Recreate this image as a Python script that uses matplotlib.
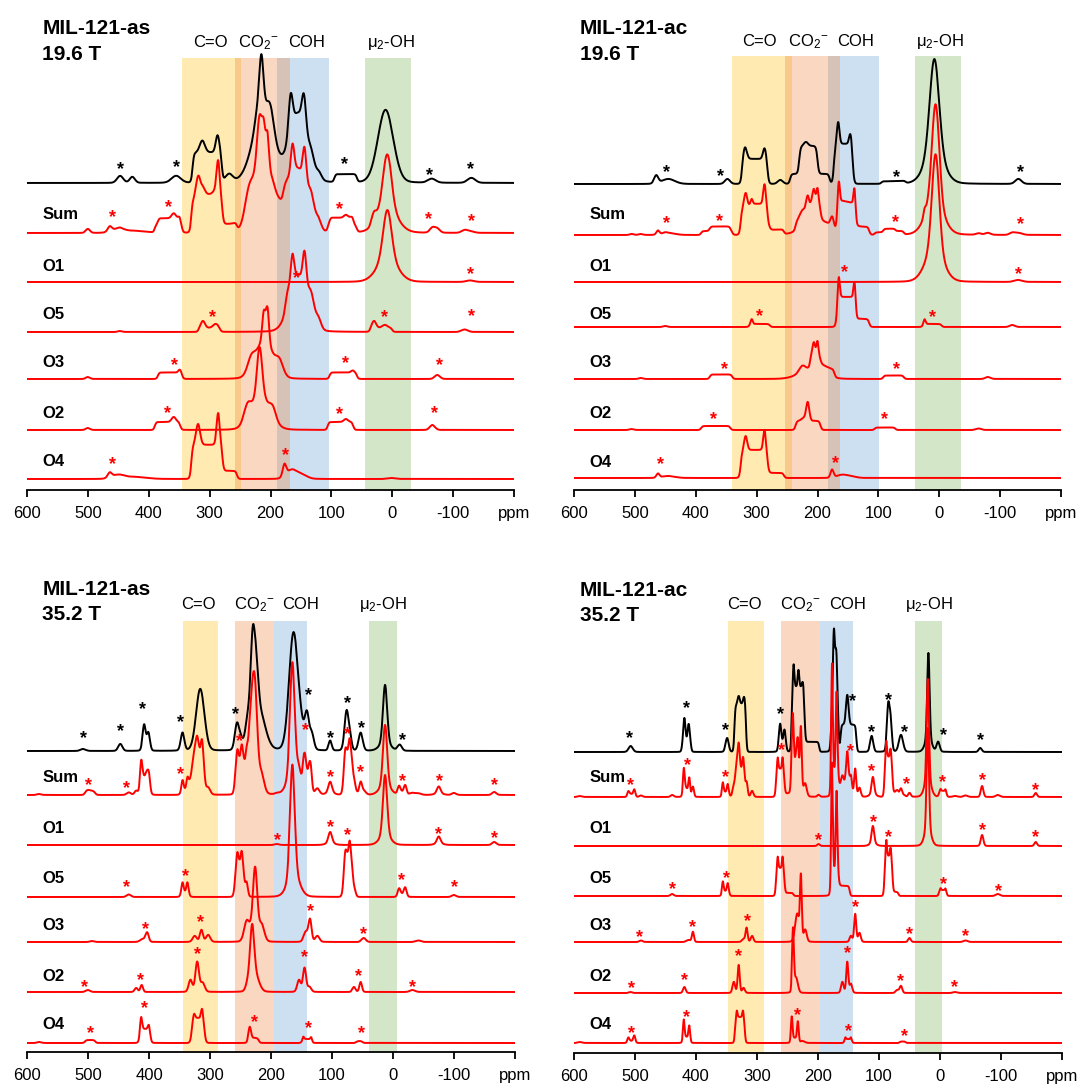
import numpy as np
import matplotlib
matplotlib.use('Agg')
import matplotlib.pyplot as plt
from matplotlib.patches import Rectangle

plt.rcParams['font.family'] = ['Liberation Sans', 'DejaVu Sans']
plt.rcParams['mathtext.fontset'] = 'custom'
plt.rcParams['mathtext.rm'] = 'Liberation Sans'
plt.rcParams['mathtext.it'] = 'Liberation Sans:italic'
plt.rcParams['mathtext.bf'] = 'Liberation Sans:bold'

# ---------------- data ----------------
TICKS = [600, 500, 400, 300, 200, 100, 0, -100, -200]
TICK_LABELS = ['600', '500', '400', '300', '200', '100', '0', '-100', 'ppm']
ROW_NAMES = ['Sum', 'O1', 'O5', 'O3', 'O2', 'O4']
BAND_LABELS = ['C=O', r'CO$_2$$^{\mathrm{−}}$', 'COH', r'μ$_2$-OH']
TITLES = [('MIL-121-as', '19.6 T'), ('MIL-121-ac', '19.6 T'),
          ('MIL-121-as', '35.2 T'), ('MIL-121-ac', '35.2 T')]

# band ranges (ppm, lo/hi) : C=O, CO2-, COH, mu2-OH
TL_BANDS = [(248, 345), (168, 259), (104, 189), (-30, 45)]
TR_BANDS = [(242, 341), (163, 253), (99, 183), (-35, 40)]
BL_BANDS = [(287, 345), (195, 259), (141, 195), (-6, 40)]
BR_BANDS = [(289, 347), (196, 260), (142, 196), (-4, 41)]
TL_BAND_LABEL_X = [299, 220, 141, 2]
TR_BAND_LABEL_X = [295, 216, 137, -1]
BL_BAND_LABEL_X = [319, 227, 151, 17]
BR_BAND_LABEL_X = [321, 229, 152, 18]

# spectra: peaks (centre ppm, height, fwhm ppm), plateaus (lo, hi, height)
# ---- MIL-121-as 19.6 T
TL_EXP_PEAKS = [(447, 7, 12), (427, 6, 10), (355, 7, 18), (312, 12, 10), (287, 17, 7), (268, 8, 14),
                (215, 55, 8), (212, 70, 40), (200, 22, 14), (222, 12, 10), (167, 38, 8), (145, 34, 8),
                (155, 68, 34), (133, 12, 12), (120, 6, 10), (11, 73, 30), (-65, 4, 15), (-130, 5, 15)]
TL_EXP_BOXES = [(280, 328, 30), (58, 95, 8)]
TL_O1_PEAKS = [(8, 48, 16), (8, 24, 38), (-128, 1.5, 15)]
TL_O1_BOXES = []
TL_O5_PEAKS = [(164, 33, 7), (144, 35, 7), (172, 14, 8), (133, 20, 12), (121, 9, 10), (154, 56, 34),
               (311, 7, 8), (290, 4, 10), (30, 7, 8), (12, 3, 10), (447, 1, 8), (-119, 2.5, 12)]
TL_O5_BOXES = [(283, 318, 4), (0, 36, 4)]
TL_O3_PEAKS = [(211, 28, 6), (205, 34, 6), (210, 38, 34), (232, 12, 14), (185, 12, 14), (349, 3, 5),
               (65, 2, 6), (-74, 4, 10), (500, 2, 8)]
TL_O3_BOXES = [(345, 385, 6.5), (58, 103, 6.5)]
TL_O2_PEAKS = [(218, 50, 10), (216, 33, 36), (238, 15, 14), (196, 10, 12), (359, 5, 8), (76, 3, 8),
               (-66, 5, 10), (500, 2, 8)]
TL_O2_BOXES = [(348, 390, 8), (64, 106, 8)]
TL_O4_PEAKS = [(319, 21, 8), (286, 32, 6), (464, 5, 8), (450, 4, 25), (420, 2, 40), (177, 12, 7),
               (165, 9, 20), (148, 4, 20), (0, 1, 15)]
TL_O4_BOXES = [(279, 330, 34), (255, 279, 8)]

# ---- MIL-121-ac 19.6 T
TR_EXP_PEAKS = [(465, 8, 8), (445, 5, 25), (348, 5, 10), (319, 12, 7), (287, 11, 6), (261, 4, 10),
                (219, 4, 8), (166, 22, 5), (146, 11, 5), (8, 95, 18), (8, 30, 36), (-130, 5, 12)]
TR_EXP_BOXES = [(282, 324, 25), (200, 230, 28), (180, 245, 10), (142, 173, 40), (55, 95, 2.5)]
TR_O1_PEAKS = [(6, 96, 14), (8, 32, 34), (-130, 2, 15)]
TR_O1_BOXES = []
TR_O5_PEAKS = [(165, 22, 4), (139, 21, 4), (308, 5, 4), (24, 5, 4), (450, 1, 8), (-120, 2, 10)]
TR_O5_BOXES = [(138, 168, 22), (115, 168, 8), (278, 312, 3), (-4, 27, 3)]
TR_O3_PEAKS = [(206, 12, 5), (200, 14, 4), (210, 10, 45), (225, 6, 12), (-80, 2, 10), (490, 1, 8)]
TR_O3_BOXES = [(195, 212, 15), (172, 195, 8), (340, 377, 4.5), (58, 92, 3.5)]
TR_O2_PEAKS = [(216, 18, 6), (222, 3, 10), (-65, 1.5, 10), (505, 1, 8)]
TR_O2_BOXES = [(195, 236, 9), (343, 391, 4), (72, 106, 2.5)]
TR_O4_PEAKS = [(318, 14, 6), (287, 20, 5), (462, 4, 6), (445, 2, 25), (176, 8, 6), (160, 3, 20),
               (145, 1.5, 20)]
TR_O4_BOXES = [(282, 326, 28), (255, 282, 5)]

# ---- MIL-121-as 35.2 T
BL_EXP_PEAKS = [(508, 2, 10), (447, 7, 8), (408, 26, 6), (401, 18, 6), (345, 18, 7), (316, 62, 16),
                (256, 25, 8), (250, 10, 8), (230, 85, 8), (224, 45, 8), (220, 40, 24), (238, 25, 10),
                (164, 85, 16), (158, 40, 22), (141, 30, 8), (133, 15, 8), (103, 10, 6), (76, 40, 8),
                (70, 10, 6), (53, 18, 8), (13, 58, 8), (13, 8, 20), (-11, 6, 8)]
BL_EXP_BOXES = []
BL_O1_PEAKS = [(13, 60, 8), (13, 10, 20), (103, 11, 7), (103, 2, 16), (-75, 7, 7), (-75, 1.5, 16),
               (-166, 3, 8), (190, 1, 8)]
BL_O1_BOXES = []
BL_O5_PEAKS = [(165, 110, 9), (163, 23, 22), (255, 10, 3.5), (248, 11, 3.5), (240, 14, 5), (78, 6, 3.5),
               (71, 13, 3.5), (63, 6, 5), (345, 10, 4), (337, 10, 4), (-10, 6, 5), (-20, 7, 5),
               (433, 2.5, 8), (-100, 2, 8)]
BL_O5_BOXES = [(244, 259, 36), (66, 81, 44), (334, 348, 5), (-23, -7, 3)]
BL_O3_PEAKS = [(226, 60, 8), (228, 15, 16), (215, 15, 10), (240, 18, 10), (403, 9, 6), (410, 3, 10),
               (314, 12, 6), (303, 7, 8), (325, 6, 8), (136, 22, 6), (143, 10, 8), (124, 6, 8),
               (48, 4, 8), (-42, 1.5, 10), (493, 1, 8)]
BL_O3_BOXES = []
BL_O2_PEAKS = [(231, 58, 8), (225, 15, 14), (238, 8, 8), (321, 30, 7), (332, 12, 7), (312, 9, 8),
               (145, 24, 6), (154, 12, 7), (137, 5, 7), (412, 7, 5), (421, 4, 6), (53, 10, 5),
               (64, 5, 6), (500, 2, 8), (-32, 2, 10)]
BL_O2_BOXES = []
BL_O4_PEAKS = [(326, 5, 4), (313, 10, 4), (413, 14, 4), (400, 6, 4), (235, 12, 5), (147, 3, 3),
               (134, 3, 3), (580, 1, 8)]
BL_O4_BOXES = [(309, 330, 25), (398, 415, 14), (488, 505, 3), (220, 237, 5), (133, 149, 4), (50, 60, 2)]

# ---- MIL-121-ac 35.2 T
BR_EXP_PEAKS = [(507, 6, 8), (419, 24, 4), (412, 18, 4), (349, 14, 6), (330, 8, 4), (321, 8, 4),
                (262, 28, 5), (255, 22, 5), (240, 24, 3), (232, 17, 3), (225, 6, 3), (174, 88, 4),
                (170, 65, 4), (152, 30, 5), (112, 16, 6), (85, 44, 5), (81, 30, 5), (64, 17, 8),
                (19, 85, 4.5), (19, 14, 12), (3, 10, 6), (-66, 4, 6)]
BR_EXP_BOXES = [(408, 423, 10), (318, 337, 48), (222, 243, 65), (198, 222, 10), (166, 179, 30),
                (137, 163, 27)]
BR_O1_PEAKS = [(20, 100, 4.5), (20, 18, 12), (110, 17, 5), (110, 3, 12), (-69, 11, 5), (-157, 4, 5),
               (199, 2, 5)]
BR_O1_BOXES = []
BR_O5_PEAKS = [(177, 110, 3), (169.5, 80, 3), (266, 12, 2.5), (258, 12, 2.5), (88, 17, 2.5),
               (81, 9, 2.5), (356, 10, 3), (348, 8, 3), (-1, 2, 2), (-9, 2, 2), (439, 2, 6), (-95, 2, 8)]
BR_O5_BOXES = [(166, 179, 25), (148, 166, 10), (255, 269, 28), (240, 255, 3), (78, 91, 40),
               (68, 78, 4), (345, 358, 5), (-11, 2, 6)]
BR_O3_PEAKS = [(228, 62, 3.5), (234, 28, 8), (221, 12, 6), (405, 10, 4), (412, 2, 8), (317, 14, 4),
               (308, 6, 5), (322, 3, 6), (139, 28, 4), (132, 9, 5), (146, 6, 5), (50, 4, 5),
               (-42, 1.5, 8), (490, 1.5, 6)]
BR_O3_BOXES = []
BR_O2_PEAKS = [(241, 62, 3.5), (236, 15, 7), (330, 28, 4), (338, 11, 5), (322, 5, 5), (152, 31, 4),
               (160, 11, 5), (146, 9, 5), (419, 6, 5), (64, 7, 5), (70, 3, 6), (507, 1, 6), (-25, 1, 8)]
BR_O2_BOXES = []
BR_O4_PEAKS = [(333, 7, 2.5), (323, 7, 2.5), (420, 18, 3), (411, 12, 3), (511, 4, 4), (501, 6, 4),
               (243, 22, 3), (233, 17, 3), (225, 2, 8), (155, 2, 2), (146, 2, 2), (590, 1, 8)]
BR_O4_BOXES = [(320, 336, 26), (409, 422, 6), (500, 512, 2), (231, 245, 5), (144, 157, 4), (56, 66, 1.5)]

# spinning sideband markers: (ppm, height above the trace baseline)
TL_EXP_STARS = [(446, 18), (355, 20), (78, 23), (-62, 12), (-128, 18)]
TL_SUM_STARS = [(459, 20), (368, 30), (86, 28), (-59, 18), (-131, 16)]
TL_O1_STARS = [(157, 8), (-129, 12)]
TL_O5_STARS = [(295, 19), (13, 19), (-131, 20)]
TL_O3_STARS = [(358, 18), (76, 20), (-78, 18)]
TL_O2_STARS = [(369, 21), (86, 20), (-69, 21)]
TL_O4_STARS = [(460, 19), (176, 28)]

TR_EXP_STARS = [(448, 16), (360, 12), (71, 11), (-134, 16)]
TR_SUM_STARS = [(448, 16), (361, 18), (72, 17), (-133, 15)]
TR_O1_STARS = [(155, 14), (-130, 12)]
TR_O5_STARS = [(296, 15), (11, 14)]
TR_O3_STARS = [(353, 14), (71, 14)]
TR_O2_STARS = [(371, 15), (90, 15)]
TR_O4_STARS = [(458, 18), (171, 19)]

BL_EXP_STARS = [(508, 17), (446, 24), (410, 46), (348, 33), (258, 41), (138, 60), (103, 17), (75, 52),
                (51, 27), (-15, 15)]
BL_SUM_STARS = [(499, 14), (437, 11), (348, 25), (252, 58), (143, 69), (103, 22), (75, 65), (53, 27),
                (-15, 18), (-77, 18), (-167, 14)]
BL_O1_STARS = [(190, 9), (103, 22), (75, 14), (-75, 15), (-166, 11)]
BL_O5_STARS = [(437, 14), (340, 25), (-14, 21), (-101, 14)]
BL_O3_STARS = [(406, 17), (316, 24), (135, 35), (48, 12)]
BL_O2_STARS = [(506, 9), (414, 16), (321, 42), (145, 39), (56, 20), (-32, 9)]
BL_O4_STARS = [(496, 14), (407, 39), (227, 25), (139, 19), (51, 14)]

BR_EXP_STARS = [(509, 18), (415, 48), (352, 26), (262, 42), (143, 55), (112, 24), (85, 56), (58, 24),
                (-5, 21), (-66, 16)]
BR_SUM_STARS = [(507, 16), (414, 36), (352, 24), (260, 51), (147, 50), (112, 30), (55, 17), (-4, 19),
                (-69, 21), (-156, 11)]
BR_O1_STARS = [(199, 10), (109, 28), (84, 13), (-70, 20), (-157, 13)]
BR_O5_STARS = [(439, 11), (350, 22), (-5, 16), (-96, 9)]
BR_O3_STARS = [(492, 9), (405, 19), (316, 25), (139, 39), (50, 12), (-42, 10)]
BR_O2_STARS = [(505, 9), (419, 17), (331, 41), (152, 44), (65, 16), (-24, 10)]
BR_O4_STARS = [(506, 14), (415, 30), (234, 32), (150, 16), (59, 11)]

# ---------------- layout ----------------
W, H, DPI = 1081, 1084, 100
BAND_COLORS = ['#FFC000', '#5B9BD5', '#ED7D31', '#70AD47']   # drawn in order C=O, COH, CO2-, OH
RED = '#FF0000'

x = np.arange(-200, 600.01, 0.25)


def spectrum(peaks, boxes, edge):
    y = np.zeros_like(x)
    for c, h, w in peaks:
        s = w / 2.3548
        y += h * (0.9 * np.exp(-0.5 * ((x - c) / s) ** 2) + 0.1 / (1 + ((x - c) / (w / 2)) ** 2))
    for lo, hi, h in boxes:
        y += h / (1 + np.exp(-(x - lo) / edge)) / (1 + np.exp(-(hi - x) / edge))
    return y


def bl(yc, size):
    return yc + 0.36 * size * DPI / 72.0


panels = [
    dict(px=(27, 514, 0, 490), bands=TL_BANDS, blx=TL_BAND_LABEL_X, bandtop=58, hdr_y=41, title_x=575,
         title_y=(27, 53), label_x=575, edge=1.2,
         bases=[183, 233, 282, 332, 379, 430, 479], label_dy=[20, 17, 19, 18, 18, 19],
         exp=(TL_EXP_PEAKS, TL_EXP_BOXES),
         sites=[(TL_O1_PEAKS, TL_O1_BOXES), (TL_O5_PEAKS, TL_O5_BOXES), (TL_O3_PEAKS, TL_O3_BOXES),
                (TL_O2_PEAKS, TL_O2_BOXES), (TL_O4_PEAKS, TL_O4_BOXES)],
         stars=[TL_EXP_STARS, TL_SUM_STARS, TL_O1_STARS, TL_O5_STARS, TL_O3_STARS, TL_O2_STARS, TL_O4_STARS]),
    dict(px=(574, 1061, 0, 490), bands=TR_BANDS, blx=TR_BAND_LABEL_X, bandtop=56, hdr_y=40, title_x=590,
         title_y=(27, 53), label_x=575, edge=1.2,
         bases=[184, 235, 282, 327, 379, 430, 478], label_dy=[22, 17, 14, 18, 18, 17],
         exp=(TR_EXP_PEAKS, TR_EXP_BOXES),
         sites=[(TR_O1_PEAKS, TR_O1_BOXES), (TR_O5_PEAKS, TR_O5_BOXES), (TR_O3_PEAKS, TR_O3_BOXES),
                (TR_O2_PEAKS, TR_O2_BOXES), (TR_O4_PEAKS, TR_O4_BOXES)],
         stars=[TR_EXP_STARS, TR_SUM_STARS, TR_O1_STARS, TR_O5_STARS, TR_O3_STARS, TR_O2_STARS, TR_O4_STARS]),
    dict(px=(27, 515, 560, 1052), bands=BL_BANDS, blx=BL_BAND_LABEL_X, bandtop=621, hdr_y=603, title_x=575,
         title_y=(588, 613), label_x=575, edge=1.2,
         bases=[751, 795, 845, 897, 942, 992, 1043], label_dy=[19, 18, 20, 18, 17, 20],
         exp=(BL_EXP_PEAKS, BL_EXP_BOXES),
         sites=[(BL_O1_PEAKS, BL_O1_BOXES), (BL_O5_PEAKS, BL_O5_BOXES), (BL_O3_PEAKS, BL_O3_BOXES),
                (BL_O2_PEAKS, BL_O2_BOXES), (BL_O4_PEAKS, BL_O4_BOXES)],
         stars=[BL_EXP_STARS, BL_SUM_STARS, BL_O1_STARS, BL_O5_STARS, BL_O3_STARS, BL_O2_STARS, BL_O4_STARS]),
    dict(px=(574, 1062, 560, 1053), bands=BR_BANDS, blx=BR_BAND_LABEL_X, bandtop=621, hdr_y=603, title_x=590,
         title_y=(588, 613), label_x=575, edge=0.8,
         bases=[752, 797, 846, 896, 942, 993, 1043], label_dy=[21, 19, 19, 18, 18, 20],
         exp=(BR_EXP_PEAKS, BR_EXP_BOXES),
         sites=[(BR_O1_PEAKS, BR_O1_BOXES), (BR_O5_PEAKS, BR_O5_BOXES), (BR_O3_PEAKS, BR_O3_BOXES),
                (BR_O2_PEAKS, BR_O2_BOXES), (BR_O4_PEAKS, BR_O4_BOXES)],
         stars=[BR_EXP_STARS, BR_SUM_STARS, BR_O1_STARS, BR_O5_STARS, BR_O3_STARS, BR_O2_STARS, BR_O4_STARS]),
]

fig = plt.figure(figsize=(W / DPI, H / DPI), dpi=DPI)

for k, p in enumerate(panels):
    x0, x1, ytop, yax = p['px']
    ax = fig.add_axes([x0 / W, 1 - yax / H, (x1 - x0) / W, (yax - ytop) / H])
    ax.set_xlim(600, -200)
    ax.set_ylim(yax, ytop)
    ax.patch.set_alpha(0)
    for s in ['top', 'left', 'right']:
        ax.spines[s].set_visible(False)
    ax.spines['bottom'].set_linewidth(1.3)
    ax.set_yticks([])
    ax.set_xticks(TICKS)
    ax.set_xticklabels(TICK_LABELS, fontsize=12)
    ax.tick_params(axis='x', direction='out', length=5, width=1.3, pad=6.2)

    # shaded regions
    lo_hi = p['bands']
    for bi in [0, 2, 1, 3]:
        lo, hi = lo_hi[bi]
        col = BAND_COLORS[[0, 2, 1, 3].index(bi)]
        ax.add_patch(Rectangle((lo, p['bandtop']), hi - lo, yax - p['bandtop'], facecolor=col,
                               alpha=0.3, edgecolor='none', zorder=0))
    for bi, lab in enumerate(BAND_LABELS):
        ax.text(p['blx'][bi], bl(p['hdr_y'], 12), lab, fontsize=12, ha='center', va='baseline')

    # titles
    ax.text(p['title_x'], bl(p['title_y'][0], 15), TITLES[k][0], fontsize=15, fontweight='bold',
            ha='left', va='baseline')
    ax.text(p['title_x'], bl(p['title_y'][1], 15), TITLES[k][1], fontsize=15, fontweight='bold',
            ha='left', va='baseline')

    edge = p['edge']
    sites = [spectrum(pk, bx, edge) for pk, bx in p['sites']]
    total = np.sum(sites, axis=0)
    exp = spectrum(p['exp'][0], p['exp'][1], edge)
    traces = [exp, total] + sites
    bases = p['bases']
    for i, tr in enumerate(traces):
        col = 'black' if i == 0 else RED
        ax.plot(x, bases[i] - tr, color=col, lw=1.4, zorder=3 + i * 0.01, solid_joinstyle='round')
        for sx, sh in p['stars'][i]:
            ax.text(sx, bases[i] - sh + 0.52 * 13 * DPI / 72, '*', fontsize=13, fontweight='bold',
                    color=col, ha='center', va='baseline', zorder=5)
    for i, name in enumerate(ROW_NAMES):
        yc = bases[i + 1] - p['label_dy'][i]
        ax.text(p['label_x'], bl(yc, 12), name, fontsize=12, fontweight='bold', ha='left', va='baseline')

fig.savefig('out.png', dpi=DPI)
